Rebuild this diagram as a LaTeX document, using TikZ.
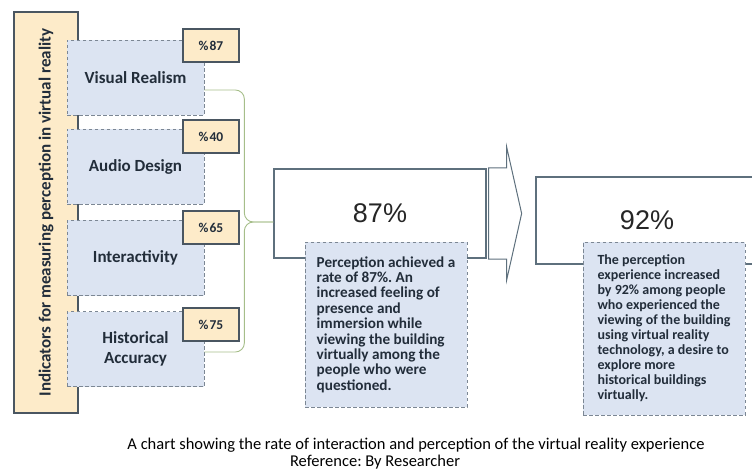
\documentclass[tikz,border=0pt]{standalone}
\usepackage{fontspec}
\setmainfont{Carlito}
\newfontfamily\arialfont{Liberation Sans}
\usepackage{tikz}
\usetikzlibrary{positioning,calc}
\definecolor{bannerfill}{HTML}{FDEBC9}
\definecolor{bannerline}{HTML}{4A5661}
\definecolor{boxfill}{HTML}{DCE4F2}
\definecolor{dashline}{HTML}{7C8794}
\definecolor{rateline}{HTML}{5E707D}
\definecolor{bracecol}{HTML}{A6BE8A}
\definecolor{inktext}{HTML}{222D3A}
\frenchspacing

\begin{document}
\begin{tikzpicture}[x=1pt,y=-1pt,
    banner/.style={draw=bannerline,line width=1.4pt,fill=bannerfill,inner sep=0pt,text=inktext},
    indbox/.style={draw=dashline,line width=0.8pt,dash pattern=on 3.5pt off 2.5pt,fill=boxfill,
      minimum width=137pt,minimum height=75pt,inner sep=0pt,align=center,text=inktext,
      font=\fontsize{17}{20}\bfseries\selectfont},
    pcbox/.style={draw=bannerline,line width=1.1pt,fill=bannerfill,minimum width=56pt,
      minimum height=33pt,inner sep=0pt,text=inktext,font=\fontsize{13.5}{15}\bfseries\selectfont},
    ratebox/.style={draw=rateline,line width=1.3pt,fill=white,minimum height=89pt,inner sep=0pt,
      text=black!85,font=\arialfont\fontsize{27}{30}\selectfont},
    notebox/.style={draw=dashline,line width=0.8pt,dash pattern=on 3.5pt off 2.5pt,fill=boxfill,
      minimum width=162pt,inner sep=0pt,text=inktext,align=left},
    bigarrow/.style={draw=rateline,line width=1pt,fill=white,line join=miter},
    brace/.style={draw=bracecol,line width=0.9pt,rounded corners=9pt},
    caption/.style={text=black,font=\fontsize{16.5}{18}\selectfont}]
  \useasboundingbox (0,0) rectangle (752,473);
  \clip (0,0) rectangle (752,473);

  % indicator banner
  \node[banner,rotate=90,minimum width=401pt,minimum height=64pt,
    font=\fontsize{17}{19}\bfseries\selectfont] (ind) at (46,212.5)
    {Indicators for measuring perception in virtual reality};

  % indicators and their rates
  \foreach \nm/\cy/\txt/\pc/\py in {vr/77.5/Visual Realism/87/45.5,
      ad/166.5/Audio Design/40/136.5, ia/258/Interactivity/65/227.5,
      ha/349/{Historical\\Accuracy}/75/324.5} {
    \node[indbox] (\nm) at (135.5,\cy) {\txt};
    \node[pcbox] (\nm-pc) at (211,\py) {\%\kern1pt\pc};
  }

  % results
  \node[ratebox,minimum width=212pt] (p87) at (380,213.5) {87\%};
  \node[ratebox,minimum width=222pt,minimum height=87pt] (p92) at (647,220.5) {92\%};
  \coordinate (atail) at ($(p87.east)+(2,0)$);
  \draw[bigarrow] (atail) ++(0,-45.5) -- ++(18,0) -- ++(0,-21) -- ++(15,66.5)
    -- ++(-15,66.5) -- ++(0,-21) -- ++(-18,0) -- cycle;

  \coordinate (btop) at ($(vr.east)+(0,12.5)$);
  \coordinate (bbot) at ($(ha.east)+(0,3)$);
  \coordinate (btip) at ($(p87.west)+(0,8.5)$);
  \draw[brace] (btop) -| ($(btip)+(-29,0)$) -- (btip);
  \draw[brace] (btip) -- ($(btip)+(-29,0)$) |- (bbot);

  \node[notebox,minimum height=165pt,font=\fontsize{15.2}{15.4}\bfseries\selectfont] (n87) at (386,324.5)
    {Perception achieved a\\rate of 87\%. An\\increased feeling of\\presence and\\immersion while\\
     viewing the building\\virtually among the\\people who were\\questioned.};
  \node[notebox,minimum height=173pt,font=\fontsize{14}{15}\bfseries\selectfont] (n92) at (664,328.5)
    {The perception\\experience increased\\by 92\% among people\\who experienced the\\
     viewing of the building\\using virtual reality\\technology, a desire to\\explore more\\
     historical buildings\\virtually.};

  % caption
  \node[caption] (cap) at (416,445)
    {A chart showing the rate of interaction and perception of the virtual reality experience};
  \node[caption] (src) at (375,462) {Reference: By Researcher};
\end{tikzpicture}
\end{document}
